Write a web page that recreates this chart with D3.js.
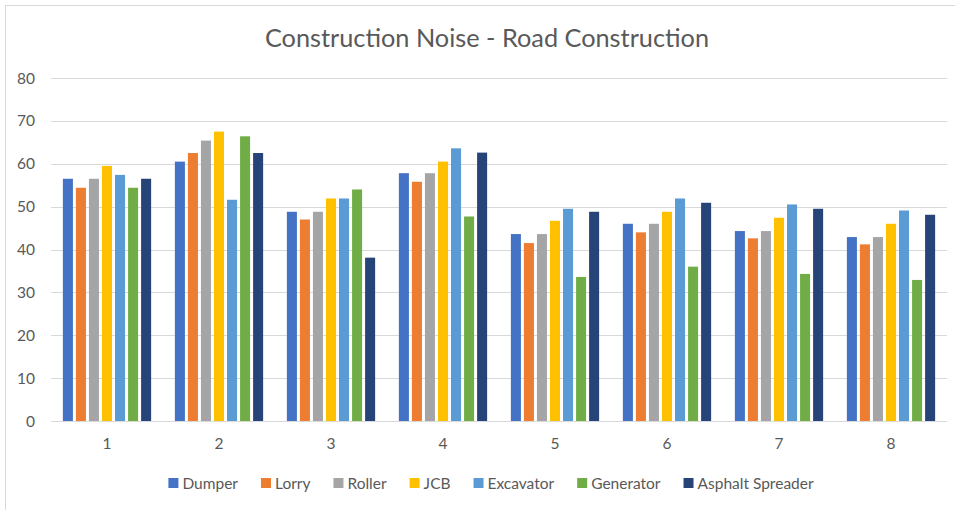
<!DOCTYPE html>
<html>
<head>
<meta charset="utf-8">
<script src="https://cdn.jsdelivr.net/npm/d3@7"></script>
<style>
  body { margin: 0; background: #fff; }
  text { font-family: Lato, "Liberation Sans", sans-serif; fill: #595959; }
  .grid line { stroke: #d9d9d9; }
  .grid path { display: none; }
</style>
</head>
<body>
<script>
var width = 955,
    height = 510;

var margin = {top: 78, right: 8, bottom: 89, left: 51};

// data
var groups = ["1", "2", "3", "4", "5", "6", "7", "8"];
var series = ["Dumper", "Lorry", "Roller", "JCB", "Excavator", "Generator", "Asphalt Spreader"];
var colors = ["#4472C4", "#ED7D31", "#A5A5A5", "#FFC000", "#5B9BD5", "#70AD47", "#264478"];
var yTicks = [0, 10, 20, 30, 40, 50, 60, 70, 80];

var dumper    = [56.5, 60.5, 48.8, 57.8, 43.6, 46.0, 44.3, 42.9];
var lorry     = [54.4, 62.5, 47.0, 55.8, 41.5, 44.0, 42.6, 41.2];
var roller    = [56.5, 65.4, 48.8, 57.8, 43.6, 46.0, 44.3, 42.9];
var jcb       = [59.5, 67.5, 51.9, 60.5, 46.7, 48.8, 47.4, 46.0];
var excavator = [57.4, 51.6, 51.9, 63.6, 49.5, 51.9, 50.5, 49.1];
var generator = [54.4, 66.4, 54.0, 47.7, 33.6, 36.0, 34.3, 32.9];
var asphalt   = [56.5, 62.5, 38.1, 62.6, 48.8, 50.9, 49.5, 48.1];

var values = [dumper, lorry, roller, jcb, excavator, generator, asphalt];

var svg = d3.select("body").append("svg")
    .attr("width", width)
    .attr("height", height);

// chart frame (cut off at right and bottom like the picture)
svg.append("rect")
    .attr("x", 5.5).attr("y", 5.5)
    .attr("width", width + 10).attr("height", height + 10)
    .attr("fill", "none")
    .attr("stroke", "#d9d9d9");

svg.append("text")
    .attr("x", 487)
    .attr("y", 47)
    .attr("text-anchor", "middle")
    .style("font-size", "25.3px")
    .text("Construction Noise - Road Construction");

var x0 = d3.scaleBand()
    .domain(groups)
    .range([margin.left, width - margin.right])
    .paddingInner(0.212)
    .paddingOuter(0.106);

var x1 = d3.scaleBand()
    .domain(series)
    .range([0, x0.bandwidth()])
    .paddingInner(0.23);

var y = d3.scaleLinear()
    .domain([0, 80])
    .range([height - margin.bottom, margin.top]);

// gridlines
svg.append("g")
    .attr("class", "grid")
    .attr("transform", "translate(" + margin.left + ",0)")
    .call(d3.axisLeft(y).tickValues(yTicks).tickSize(-(width - margin.left - margin.right)).tickFormat(""))
  .selectAll("line")
    .attr("shape-rendering", "crispEdges");

// y labels
svg.append("g")
  .selectAll("text")
  .data(yTicks)
  .enter().append("text")
    .attr("x", 35)
    .attr("y", function(d) { return y(d); })
    .attr("dy", "0.36em")
    .attr("text-anchor", "end")
    .style("font-size", "15.5px")
    .text(function(d) { return d; });

// bars
var g = svg.append("g")
  .selectAll("g")
  .data(groups)
  .enter().append("g")
    .attr("transform", function(d) { return "translate(" + x0(d) + ",0)"; });

g.selectAll("rect")
  .data(function(d, i) { return series.map(function(s, j) { return {s: s, v: values[j][i], c: colors[j]}; }); })
  .enter().append("rect")
    .attr("x", function(d) { return x1(d.s); })
    .attr("y", function(d) { return y(d.v); })
    .attr("width", x1.bandwidth())
    .attr("height", function(d) { return y(0) - y(d.v); })
    .attr("fill", function(d) { return d.c; });

// x labels
svg.append("g")
  .selectAll("text")
  .data(groups)
  .enter().append("text")
    .attr("x", function(d) { return x0(d) + x0.bandwidth() / 2; })
    .attr("y", 449)
    .attr("text-anchor", "middle")
    .style("font-size", "15.5px")
    .text(function(d) { return d; });

// legend
var legend = svg.append("g");
var lx = 0;
series.forEach(function(s, i) {
  var item = legend.append("g").attr("transform", "translate(" + lx + ",0)");
  item.append("rect")
    .attr("x", 0).attr("y", -5)
    .attr("width", 10).attr("height", 10)
    .attr("fill", colors[i]);
  var t = item.append("text")
    .attr("x", 14)
    .attr("dy", "0.36em")
    .style("font-size", "15.5px")
    .text(s);
  lx += 14 + t.node().getComputedTextLength() + 23;
});
lx -= 23;
legend.attr("transform", "translate(" + (491 - lx / 2) + ",483)");
</script>
</body>
</html>
